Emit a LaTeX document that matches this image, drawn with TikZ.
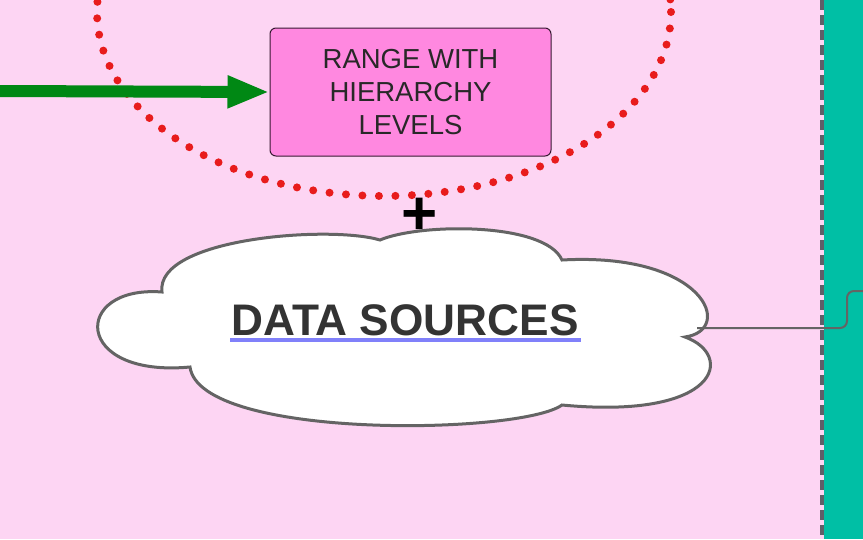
\documentclass[tikz,border=0pt]{standalone}
\usepackage{fontspec}
\setmainfont{Liberation Sans}
\usetikzlibrary{arrows.meta}
\definecolor{bgpink}{RGB}{253,213,243}
\definecolor{teal}{RGB}{0,191,165}
\definecolor{boxpink}{RGB}{255,136,224}
\definecolor{boxedge}{RGB}{55,25,50}
\definecolor{edgegray}{RGB}{100,100,100}
\definecolor{dashgray}{RGB}{95,95,105}
\definecolor{dotred}{RGB}{232,28,28}
\definecolor{arrgreen}{RGB}{0,136,20}
\definecolor{ulblue}{RGB}{128,128,250}
\definecolor{txtdark}{RGB}{40,40,40}
\tikzset{
  rangebox/.style={draw=boxedge, line width=1pt, fill=boxpink, rounded corners=6pt,
    minimum width=281pt, minimum height=128pt, align=center, inner sep=0pt,
    font=\fontsize{27.5}{33}\selectfont, text=txtdark},
  dotring/.style={draw=dotred, line width=8pt, line cap=round, dash pattern=on 0pt off 16.5pt},
  cloudline/.style={draw=edgegray, line width=3pt, fill=white},
  linkline/.style={draw=edgegray, line width=2pt, rounded corners=7pt},
  bigarrow/.style={draw=arrgreen, line width=12pt, -{Triangle[length=42pt,width=30pt]}},
}
\begin{document}
\begin{tikzpicture}[x=1pt,y=-1pt]
\useasboundingbox (0,0) rectangle (863,539);
\fill[bgpink] (0,0) rectangle (863,539);
\fill[teal] (824,0) rectangle (863,539);
\draw[dashgray, line width=4.5pt, dash pattern=on 10pt off 5pt] (822,0) -- (822,539);
% dotted ring
\begin{scope}
\clip (0,0) rectangle (863,539);
\draw[dotring] (384,12) ellipse [x radius=287, y radius=184];
\end{scope}
% range box
\node[rangebox] (range) at (410.5,92) {RANGE WITH\\HIERARCHY\\LEVELS};
\coordinate (arrstart) at (0,91);
\draw[bigarrow] (arrstart) -- (range.west);
% plus
\node[font=\bfseries\fontsize{62}{62}\selectfont, inner sep=0pt] (plus) at (420,216) {+};
% cloud
\path[cloudline] (190,367)
  .. controls (72,378) and (72,285) .. (162,292)
  .. controls (155,238) and (330,225) .. (380,240)
  .. controls (420,223) and (545,222) .. (562,260)
  .. controls (705,252) and (735,330) .. (685,337)
  .. controls (735,355) and (720,420) .. (562,405)
  .. controls (520,435) and (200,440) .. (190,367) -- cycle;
\node[font=\bfseries\fontsize{44.2}{44}\selectfont, text=black!80, inner sep=0pt] (ds) at (405,320) {DATA SOURCES};
\draw[ulblue, line width=4pt] (230,340) -- (581,340);
\coordinate (cloudport) at (697,328);
\coordinate (linkend) at (863,291);
\draw[linkline] (cloudport) -- (847,328) -- (847,291) -- (linkend);
\end{tikzpicture}
\end{document}
